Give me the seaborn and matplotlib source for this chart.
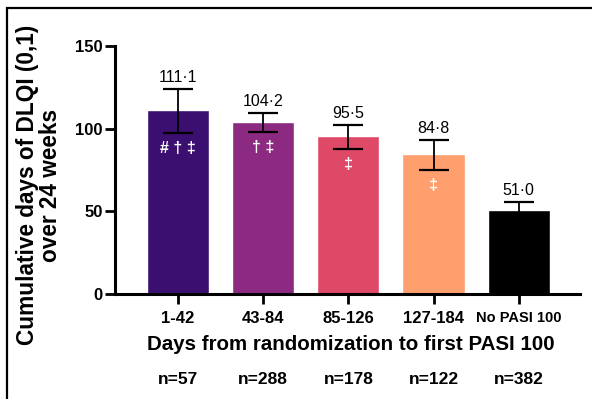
import matplotlib
matplotlib.use("Agg")
import matplotlib.pyplot as plt
from matplotlib.patches import Rectangle
import matplotlib.transforms as mtransforms
import seaborn as sns
import pandas as pd

categories = ["1-42", "43-84", "85-126", "127-184", "No PASI 100"]
values = [111.1, 104.2, 95.5, 84.8, 51.0]
ci_low = [97.2, 97.8, 87.5, 75.0, 46.3]
ci_high = [123.8, 109.5, 102.3, 93.3, 55.7]
value_labels = ["111·1", "104·2", "95·5", "84·8", "51·0"]
symbols = ["# † ‡", "† ‡", "‡", "‡", ""]
n_labels = ["n=57", "n=288", "n=178", "n=122", "n=382"]
colors = ["#3b0f70", "#8c2981", "#de4968", "#fe9f6d", "#000000"]

sns.set_style("ticks")
plt.rcParams["font.family"] = ["Liberation Sans", "DejaVu Sans"]
plt.rcParams["text.color"] = "black"
plt.rcParams["axes.labelcolor"] = "black"
plt.rcParams["xtick.color"] = "black"
plt.rcParams["ytick.color"] = "black"

df = pd.DataFrame({"group": categories, "value": values})

fig = plt.figure(figsize=(5.92, 3.99), dpi=100)
ax = fig.add_axes([115/592, 1-294/399, (580-115)/592, (294-46)/399])

sns.barplot(data=df, x="group", y="value", hue="group", palette=colors,
            order=categories, hue_order=categories, width=0.73,
            errorbar=None, legend=False, ax=ax, saturation=1)
ax.set_xlabel("")
ax.set_ylabel("")

xs = list(range(len(categories)))
yerr = [[v - lo for v, lo in zip(values, ci_low)],
        [hi - v for v, hi in zip(values, ci_high)]]
ax.errorbar(xs, values, yerr=yerr, fmt="none", ecolor="black",
            elinewidth=1.3, capsize=11, capthick=1.6, zorder=5)

for x, hi, lab in zip(xs, ci_high, value_labels):
    ax.annotate(lab, (x, hi), xytext=(0, 3), textcoords="offset points",
                ha="center", va="bottom", fontsize=11.5, color="black")
for x, lo, s in zip(xs, ci_low, symbols):
    if s:
        ax.annotate(s, (x, lo), xytext=(0, -11), textcoords="offset points",
                    ha="center", va="center", fontsize=11.5, color="white",
                    fontweight="bold", zorder=6)

trans = mtransforms.blended_transform_factory(ax.transData, fig.transFigure)
for x, n in zip(xs, n_labels):
    ax.text(x, 1 - 380/399, n, transform=trans, ha="center", va="center",
            fontsize=12.5, fontweight="bold")

ax.set_ylim(0, 150)
ax.set_xlim(-0.74, 4.72)
ax.set_yticks([0, 50, 100, 150])
ax.set_xticks(xs)
ax.set_xticklabels(categories)
for lbl in ax.get_xticklabels():
    lbl.set_fontweight("bold")
    lbl.set_fontsize(12 if lbl.get_text() != "No PASI 100" else 10.5)
for lbl in ax.get_yticklabels():
    lbl.set_fontweight("bold")
    lbl.set_fontsize(12)

ax.tick_params(axis="both", direction="out", length=7, width=2, color="black")
ax.tick_params(axis="y", pad=2)
ax.tick_params(axis="x", pad=5)
sns.despine(ax=ax)
for sp in ["left", "bottom"]:
    ax.spines[sp].set_linewidth(2.2)
    ax.spines[sp].set_color("black")

fig.text(0.5 * (115 + 580) / 592 + 0.005, 1 - 345/399,
         "Days from randomization to first PASI 100", fontsize=14.8,
         fontweight="bold", ha="center", va="center")
fig.text(39/592, 1 - 185/399, "Cumulative days of DLQI (0,1)\nover 24 weeks",
         fontsize=16.3, fontweight="bold", rotation=90, ha="center",
         va="center", linespacing=0.95, multialignment="center")

fig.add_artist(Rectangle((7/592, -0.1), 1.2, 1 - 8/399 + 0.1, fill=False,
                         lw=1.6, edgecolor="black", transform=fig.transFigure,
                         clip_on=False))

fig.savefig("out.png", dpi=100)
